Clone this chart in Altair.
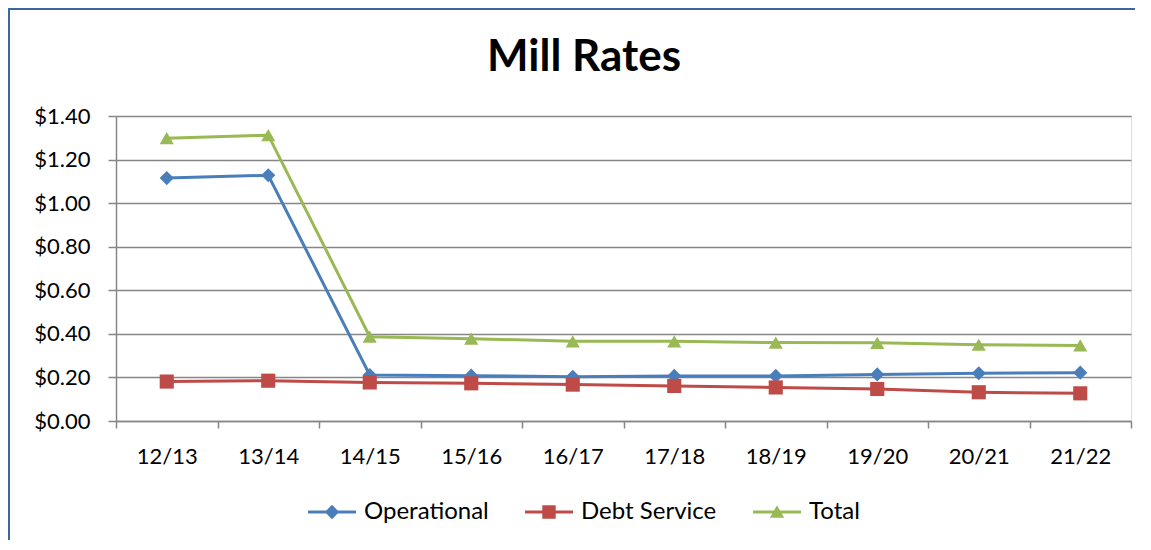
import altair as alt
import pandas as pd

categories = ["12/13", "13/14", "14/15", "15/16", "16/17", "17/18", "18/19", "19/20", "20/21", "21/22"]
series_names = ["Operational", "Debt Service", "Total"]
operational = [1.115, 1.128, 0.211, 0.208, 0.203, 0.207, 0.207, 0.214, 0.219, 0.222]
debt_service = [0.181, 0.185, 0.177, 0.173, 0.167, 0.161, 0.154, 0.147, 0.132, 0.127]
total = [1.298, 1.312, 0.387, 0.378, 0.366, 0.366, 0.360, 0.359, 0.350, 0.347]
y_ticks = [0.0, 0.2, 0.4, 0.6, 0.8, 1.0, 1.2, 1.4]
title_text = ["Mill Rates"]

colors = ["#4a7ebb", "#be4b48", "#98b954"]
shapes = ["diamond", "square", "triangle-up"]
legend_paths = [
    "M-1,-0.06H1V0.06H-1Z M0,-0.3L0.3,0L0,0.3L-0.3,0Z",
    "M-1,-0.06H1V0.06H-1Z M-0.28,-0.28H0.28V0.28H-0.28Z",
    "M-1,-0.06H1V0.06H-1Z M0,-0.28L0.3,0.24H-0.3Z",
]

rows = []
for name, vals in zip(series_names, [operational, debt_service, total]):
    for c, v in zip(categories, vals):
        rows.append({"year": c, "series": name, "rate": v})
df = pd.DataFrame(rows)

W, H = 1015, 305
FONT = "Lato"
GRID = "#868686"
BORDER = "#3a679f"

x_enc = alt.X(
    "year:N",
    sort=categories,
    scale=alt.Scale(type="band", paddingInner=0, paddingOuter=0),
    axis=alt.Axis(
        title=None, labelAngle=0, tickBand="extent", grid=False,
        tickSize=7, labelPadding=18, labelFontSize=22, labelFont=FONT,
        labelColor="#000000", domainColor=GRID, tickColor=GRID,
        domainWidth=1.5, tickWidth=1.5,
    ),
)
y_enc = alt.Y(
    "rate:Q",
    scale=alt.Scale(domain=[0, 1.4], nice=False, zero=True),
    axis=alt.Axis(
        title=None, values=y_ticks, format="$.2f", grid=True,
        gridColor=GRID, gridWidth=1.5, tickSize=8, labelPadding=18,
        labelFontSize=22, labelFont=FONT, labelColor="#000000",
        domainColor=GRID, tickColor=GRID, domainWidth=1.5, tickWidth=1.5,
    ),
)

base = alt.Chart(df)
layers = []
for name, col, sh in zip(series_names, colors, shapes):
    sub = base.transform_filter(alt.datum.series == name)
    layers.append(sub.mark_line(color=col, strokeWidth=3).encode(x=x_enc, y=y_enc))
    layers.append(
        sub.mark_point(shape=sh, filled=True, size=200, color=col, opacity=1)
        .encode(x=x_enc, y=y_enc)
    )

legend_layer = base.transform_filter("false").mark_point(
    filled=True, size=2304, opacity=1
).encode(
    x=x_enc,
    y=y_enc,
    color=alt.Color(
        "series:N",
        sort=series_names,
        scale=alt.Scale(domain=series_names, range=colors),
        legend=alt.Legend(
            title=None, orient="none", direction="horizontal",
            legendX=192, legendY=372, labelFontSize=24, labelFont=FONT,
            labelColor="#000000", symbolSize=2304, symbolStrokeWidth=0,
            symbolOpacity=1, labelOffset=8, columnPadding=36,
        ),
    ),
    shape=alt.Shape(
        "series:N",
        sort=series_names,
        scale=alt.Scale(domain=series_names, range=legend_paths),
    ),
)
layers.append(legend_layer)

frame_df = pd.DataFrame({"k": [0]})
border_left = alt.Chart(frame_df).mark_rule(color=BORDER, strokeWidth=2).encode(
    x=alt.value(-107), y=alt.value(-108), y2=alt.value(H + 300),
)
border_top = alt.Chart(frame_df).mark_rule(color=BORDER, strokeWidth=2).encode(
    x=alt.value(-108), x2=alt.value(W + 300), y=alt.value(-107),
)

title = alt.Chart(pd.DataFrame({"t": title_text})).mark_text(
    font=FONT, fontSize=44, fontWeight="bold", color="#000000",
    align="center", baseline="alphabetic",
).encode(text="t:N", x=alt.value(468), y=alt.value(-45))

chart = alt.layer(border_left, border_top, title, *layers).properties(
    width=W,
    height=H,
    autosize=alt.AutoSizeParams(type="none"),
    padding={"left": 108, "top": 108, "right": 4, "bottom": 119},
).configure_view(stroke=None).configure(background="#ffffff")

chart.save("out.html", embed_options={"renderer": "svg", "actions": False})
